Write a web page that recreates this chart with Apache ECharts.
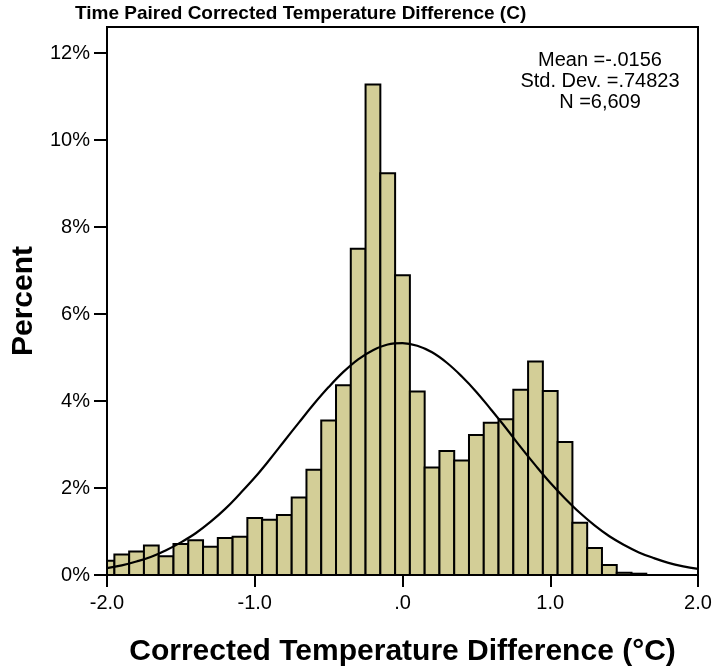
<!DOCTYPE html>
<html>
<head>
<meta charset="utf-8">
<script src="https://cdn.jsdelivr.net/npm/echarts@6/dist/echarts.min.js"></script>
<style>html,body{margin:0;padding:0;background:#fff;}#c{width:715px;height:672px;}</style>
</head>
<body>
<div id="c"></div>
<script>
// Histogram bins (centres, width 0.1) and percent values
const binCenters = [-2.0,-1.9,-1.8,-1.7,-1.6,-1.5,-1.4,-1.3,-1.2,-1.1,-1.0,-0.9,-0.8,-0.7,-0.6,-0.5,-0.4,-0.3,-0.2,-0.1,0.0,0.1,0.2,0.3,0.4,0.5,0.6,0.7,0.8,0.9,1.0,1.1,1.2,1.3,1.4,1.5,1.6];
const binPercent = [0.33,0.47,0.54,0.68,0.43,0.71,0.80,0.65,0.85,0.88,1.31,1.27,1.38,1.78,2.42,3.55,4.36,7.50,11.28,9.24,6.89,4.22,2.47,2.85,2.63,3.22,3.50,3.58,4.26,4.91,4.23,3.06,1.20,0.62,0.23,0.05,0.03];
// Normal curve overlay
const curveX = [-2.0,-1.9,-1.8,-1.7,-1.6,-1.5,-1.4,-1.3,-1.2,-1.1,-1.0,-0.9,-0.8,-0.7,-0.6,-0.5,-0.4,-0.3,-0.2,-0.1,0.0,0.1,0.2,0.3,0.4,0.5,0.6,0.7,0.8,0.9,1.0,1.1,1.2,1.3,1.4,1.5,1.6,1.7,1.8,1.9,2.0];
const curveY = [0.16,0.22,0.31,0.42,0.57,0.75,0.96,1.22,1.52,1.87,2.24,2.65,3.08,3.51,3.93,4.32,4.67,4.96,5.17,5.30,5.33,5.27,5.12,4.88,4.57,4.21,3.80,3.38,2.94,2.52,2.12,1.76,1.43,1.14,0.89,0.69,0.52,0.39,0.28,0.20,0.14];
const yTicks = [0,2,4,6,8,10,12];
const xTicks = [-2,-1,0,1,2];
const xTickLabels = ['-2.0','-1.0','.0','1.0','2.0'];
const statsLines = ['Mean =-.0156','Std. Dev. =.74823','N =6,609'];
const binWidth = 0.1;

const FONT = '"Liberation Sans", Arial, sans-serif';
const chart = echarts.init(document.getElementById('c'), null, {renderer:'canvas'});
chart.setOption({
  animation: false,
  backgroundColor: '#fff',
  title: {
    text: 'Time Paired Corrected Temperature Difference (C)',
    left: 70, top: -1,
    textStyle: {fontFamily: FONT, fontSize: 19, fontWeight: 'bold', color: '#000'}
  },
  grid: {left: 107, right: 17, top: 27, bottom: 95, show: true, borderColor: '#000', borderWidth: 2, backgroundColor: 'transparent'},
  xAxis: {
    type: 'value', min: -2, max: 2, interval: 1,
    name: 'Corrected Temperature Difference (°C)',
    nameLocation: 'middle', nameGap: 62,
    nameTextStyle: {fontFamily: FONT, fontSize: 30, fontWeight: 'bold', color: '#000'},
    axisLine: {show: true, onZero: false, lineStyle: {color: '#000', width: 2}},
    axisTick: {show: true, length: 12, lineStyle: {color: '#000', width: 2}},
    axisLabel: {fontFamily: FONT, fontSize: 20, color: '#000', margin: 18,
      formatter: v => { const i = xTicks.indexOf(v); return i >= 0 ? xTickLabels[i] : ''; }},
    splitLine: {show: false}
  },
  yAxis: {
    type: 'value', min: 0, max: 12.6,
    name: 'Percent', nameLocation: 'middle', nameGap: 49, nameRotate: 90,
    nameTextStyle: {fontFamily: FONT, fontSize: 30, fontWeight: 'bold', color: '#000'},
    axisLine: {show: true, onZero: false, lineStyle: {color: '#000', width: 2}},
    axisTick: {show: true, length: 13, lineStyle: {color: '#000', width: 2}, customValues: yTicks},
    axisLabel: {fontFamily: FONT, fontSize: 20, color: '#000', margin: 17, customValues: yTicks,
      formatter: v => v + '%'},
    splitLine: {show: false}
  },
  graphic: [{
    type: 'text', left: 510, top: 50,
    style: {text: statsLines.join('\n'), x: 0, y: 0, width: 180, align: 'center', textAlign: 'center',
      font: '20px ' + FONT, fill: '#000', lineHeight: 21}
  }],
  series: [{
    type: 'custom',
    clip: true,
    data: binCenters.map((c, i) => [c, binPercent[i]]),
    renderItem: function (params, api) {
      const c = api.value(0), v = api.value(1);
      const p0 = api.coord([c - binWidth/2, v]);
      const p1 = api.coord([c + binWidth/2, 0]);
      const shape = echarts.graphic.clipRectByRect({x: p0[0], y: p0[1], width: p1[0]-p0[0], height: p1[1]-p0[1]}, {
        x: params.coordSys.x, y: params.coordSys.y, width: params.coordSys.width, height: params.coordSys.height});
      return shape && {type: 'rect', shape: shape, style: {fill: '#d3ce97', stroke: '#000', lineWidth: 2}};
    },
    z: 2
  }, {
    type: 'line',
    data: curveX.map((x, i) => [x, curveY[i]]),
    smooth: 0.4, showSymbol: false, symbol: 'none',
    lineStyle: {color: '#000', width: 2.2},
    z: 3
  }]
});
</script>
</body>
</html>
